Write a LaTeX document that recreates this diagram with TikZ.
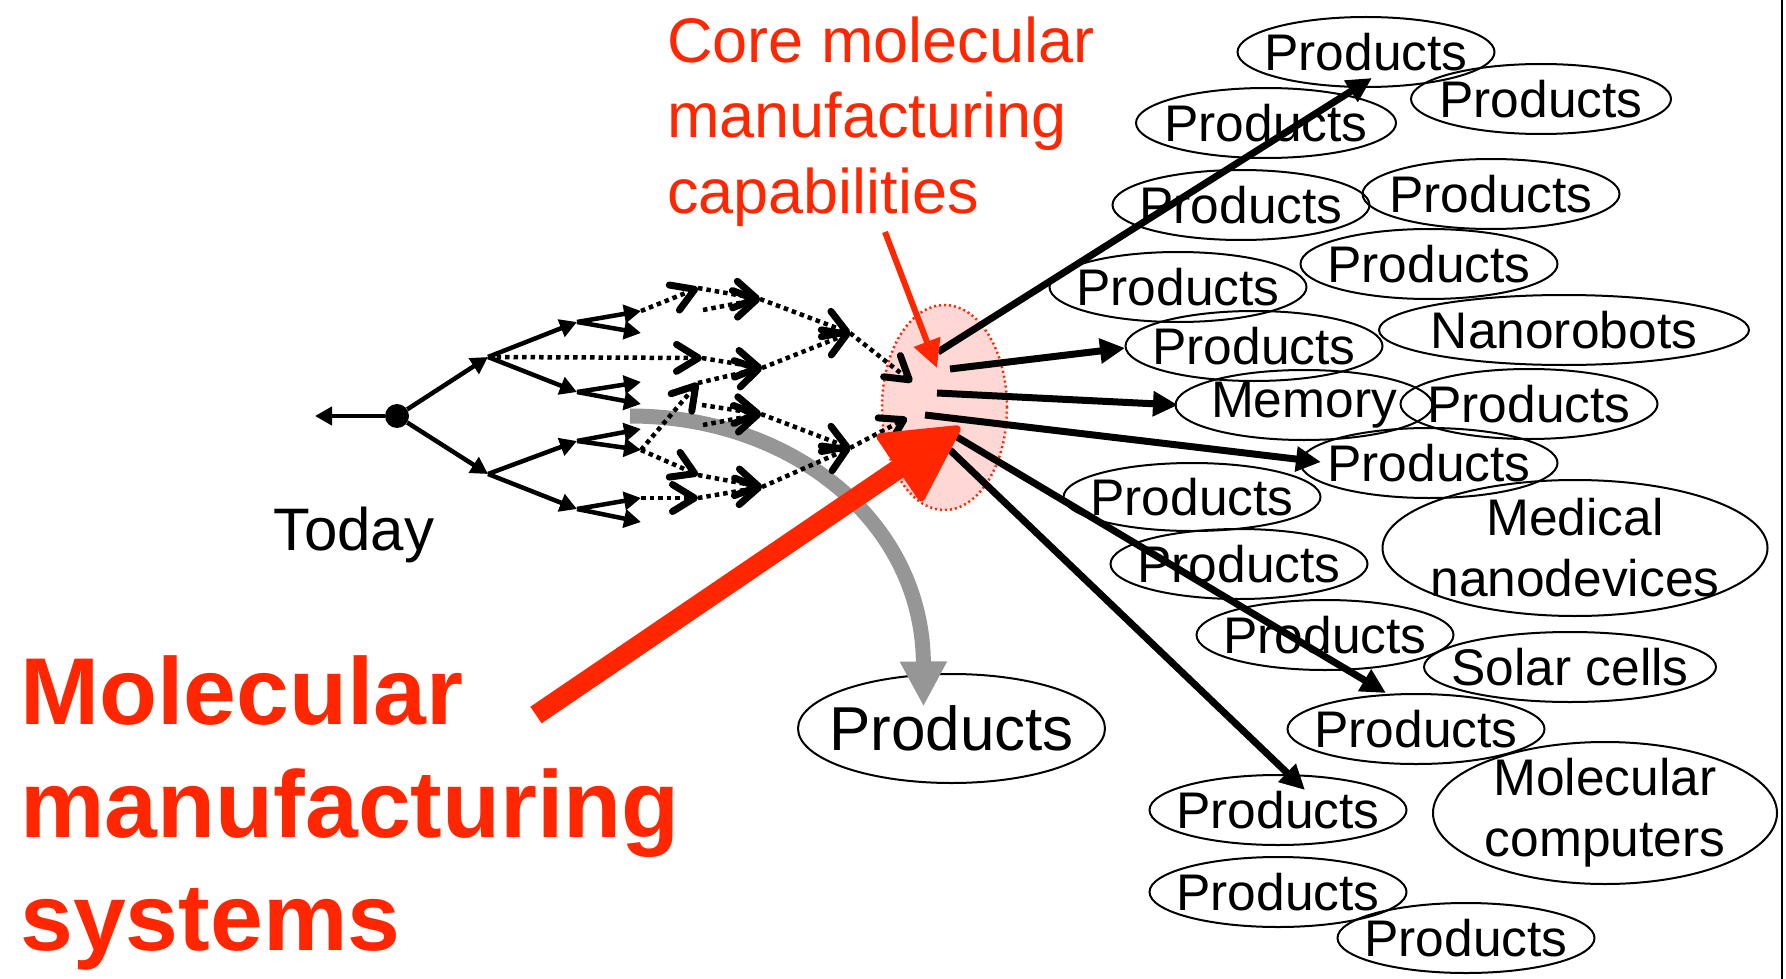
\documentclass[tikz,border=0pt]{standalone}
\usepackage{fontspec}
\setmainfont{Liberation Sans}
\usetikzlibrary{arrows.meta,calc,shapes.geometric}
\definecolor{mmred}{RGB}{255,38,0}
\definecolor{mmpink}{RGB}{255,216,214}
\definecolor{mmgrey}{RGB}{150,150,150}

\begin{document}
\begin{tikzpicture}[x=1pt,y=-1pt,
  oval/.style={draw,ellipse,line width=2pt,inner sep=0pt},
  prod/.style={oval,minimum width=257pt,minimum height=70pt,
    label={[font=\fontsize{51.5}{61}\selectfont,align=center]center:{#1}}},
  prod/.default=Products,
  dot/.style={circle,fill,inner sep=0pt,minimum size=24pt},
  solidarr/.style={line width=4.5pt,-{Triangle[length=17pt,width=18pt]}},
  dotarr/.style={line width=4.5pt,dash pattern=on 4.5pt off 4pt,
    -{Straight Barb[length=22pt,width=27pt,line width=7pt,round]}},
  hubarr/.style={line width=7pt,-{Triangle[length=25pt,width=24pt]}}]

  \useasboundingbox (0,0) rectangle (1786,979);
  \draw[line width=1.5pt] (1782,0) -- (1782,979);

  % labels (base = last line)
  \node[inner sep=0pt,font=\fontsize{60}{72}\selectfont,anchor=base] (Today) at (354,550) {Today};
  \node[inner sep=0pt,mmred,font=\fontsize{63}{75.5}\selectfont,align=left,anchor=base west]
    (CoreLbl) at (667,213) {Core molecular\\manufacturing\\capabilities};
  \node[inner sep=0pt,mmred,font=\fontsize{95}{113}\selectfont\bfseries,align=left,anchor=base west]
    (SysLbl) at (20,950) {Molecular\\manufacturing\\systems};

  % products
  \node[prod] (ProdA) at (1366,52) {};
  \node[prod,minimum width=260pt] (ProdB) at (1541,99) {};
  \node[prod,minimum width=260pt] (ProdC) at (1266,123) {};
  \node[prod] (ProdD) at (1241,205) {};
  \node[prod] (ProdE) at (1491,194) {};
  \node[prod] (ProdF) at (1429,264) {};
  \node[prod] (ProdG) at (1178,287) {};
  \node[prod=Nanorobots,minimum width=370pt] (NanoRob) at (1564,330) {};
  \node[prod] (ProdH) at (1254,346) {};
  \node[prod=Memory] (Memo) at (1304,405) {};
  \node[prod] (ProdI) at (1529,404) {};
  \node[prod] (ProdJ) at (1429,463) {};
  \node[prod,minimum height=68pt] (ProdK) at (1192,497) {};
  \node[prod={Medical\\nanodevices},minimum width=385pt,minimum height=136pt] (MedNano) at (1575,548) {};
  \node[prod] (ProdL) at (1239,564) {};
  \node[prod] (ProdM) at (1325,635) {};
  \node[prod=Solar cells,minimum width=292pt] (SolCel) at (1570,667) {};
  \node[prod] (ProdN) at (1416,729) {};
  \node[prod={Molecular\\computers},minimum width=344pt,minimum height=142pt] (MolComp) at (1605,813) {};
  \node[prod] (ProdO) at (1278,810) {};
  \node[prod] (ProdP) at (1278,892) {};
  \node[prod] (ProdQ) at (1466,938) {};
  \node[oval,minimum width=307pt,minimum height=109pt,
    label={[font=\fontsize{62}{74}\selectfont]center:Products}] (ProdBig) at (951.5,728.5) {};

  % side branch into products
  \coordinate (SideOut) at (630,416);
  \draw[mmgrey,line width=15pt,-{Triangle[length=45pt,width=44pt]}]
    (SideOut) .. controls (790,416) and (923,520) .. ($(ProdBig)+(-28,-22)$);

  % core capabilities
  \node[ellipse,draw=mmred,fill=mmpink,line width=2.5pt,dash pattern=on 2pt off 3pt,
    inner sep=0pt,minimum width=125pt,minimum height=205pt] (Hub) at (944.5,407.5) {};

  % today and the paths forward
  \node[dot] (Now) at (397,416) {};
  \coordinate (Past) at (315,416);
  \coordinate (ForkUp) at (488,357);
  \coordinate (ForkDn) at (488,474);
  \coordinate (V1) at (577,322);
  \coordinate (V2) at (577,392);
  \coordinate (V3) at (577,441);
  \coordinate (V4) at (577,509);
  \coordinate (T1) at (641,311);
  \coordinate (T2) at (641,333);
  \coordinate (T3) at (641,382);
  \coordinate (T4) at (641,404);
  \coordinate (T5) at (641,429);
  \coordinate (T6) at (641,450);
  \coordinate (T7) at (641,498);
  \coordinate (T8) at (641,522);
  \draw[solidarr] (Now) -- (Past);
  \draw[solidarr] (Now) -- (ForkUp);
  \draw[solidarr] (Now) -- (ForkDn);
  \draw[solidarr] (ForkUp) -- (V1);
  \draw[solidarr] (ForkUp) -- (V2);
  \draw[solidarr] (ForkDn) -- (V3);
  \draw[solidarr] (ForkDn) -- (V4);
  \draw[solidarr] (V1) -- (T1);
  \draw[solidarr] (V1) -- (T2);
  \draw[solidarr] (V2) -- (T3);
  \draw[solidarr] (V2) -- (T4);
  \draw[solidarr] (V3) -- (T5);
  \draw[solidarr] (V3) -- (T6);
  \draw[solidarr] (V4) -- (T7);
  \draw[solidarr] (V4) -- (T8);

  % converging guesses
  \coordinate (A1) at (698,288);
  \coordinate (A2) at (702,358);
  \coordinate (A3) at (698,383);
  \coordinate (A4) at (698,475);
  \coordinate (A5) at (698,498);
  \coordinate (L1) at (703,310);
  \coordinate (L2) at (702,405);
  \coordinate (L3) at (703,425);
  \coordinate (D1) at (760,299);
  \coordinate (D2) at (762,368);
  \coordinate (D3) at (761,414);
  \coordinate (D4) at (762,487);
  \coordinate (E1) at (850,333);
  \coordinate (E2) at (850,448);
  \coordinate (F1) at (912,382);
  \coordinate (F2) at (907,418);
  \draw[dotarr] (T1) -- (A1);
  \draw[dotarr] (ForkUp) -- (A2);
  \draw[dotarr] (T6) -- (A3);
  \draw[dotarr] (T6) -- (A4);
  \draw[dotarr] (T7) -- (A5);
  \draw[dotarr] (A1) -- (D1);
  \draw[dotarr] (L1) -- (D1);
  \draw[dotarr] (A2) -- (D2);
  \draw[dotarr] (A3) -- (D2);
  \draw[dotarr] (L2) -- (D3);
  \draw[dotarr] (L3) -- (D3);
  \draw[dotarr] (A4) -- (D4);
  \draw[dotarr] (A5) -- (D4);
  \draw[dotarr] (D1) -- (E1);
  \draw[dotarr] (D2) -- (E1);
  \draw[dotarr] (D3) -- (E2);
  \draw[dotarr] (D4) -- (E2);
  \draw[dotarr] (E1) -- (F1);
  \draw[dotarr] (E2) -- (F2);

  % out of the core
  \draw[hubarr] ($(Hub)+(-6.5,-55.5)$) -- ($(ProdA)+(6,26)$);
  \draw[hubarr] ($(Hub)+(5.5,-38.5)$) -- ($(ProdH)+(-129,2)$);
  \draw[hubarr] ($(Hub)+(-7.5,-14.5)$) -- ($(Memo)+(-126,0)$);
  \draw[hubarr] ($(Hub)+(-19.5,7.5)$) -- ($(ProdJ)+(-108,-1)$);
  \draw[hubarr] ($(Hub)+(12.5,29.5)$) -- ($(ProdN)+(-30,-36)$);
  \draw[hubarr] ($(Hub)+(5.5,42.5)$) -- ($(ProdO)+(27,-20)$);

  % pointers
  \coordinate (CapTail) at (885,232);
  \draw[mmred,line width=6pt,-{Triangle[length=28pt,width=27pt]}] (CapTail) -- ($(Hub)+(-7.5,-39.5)$);
  \coordinate (SysTail) at (536,715);
  \draw[mmred,line width=20pt,-{Triangle[length=80pt,width=84pt,line width=8pt,round]}]
    (SysTail) -- ($(Hub)+(15.5,19.5)$);
\end{tikzpicture}
\end{document}
